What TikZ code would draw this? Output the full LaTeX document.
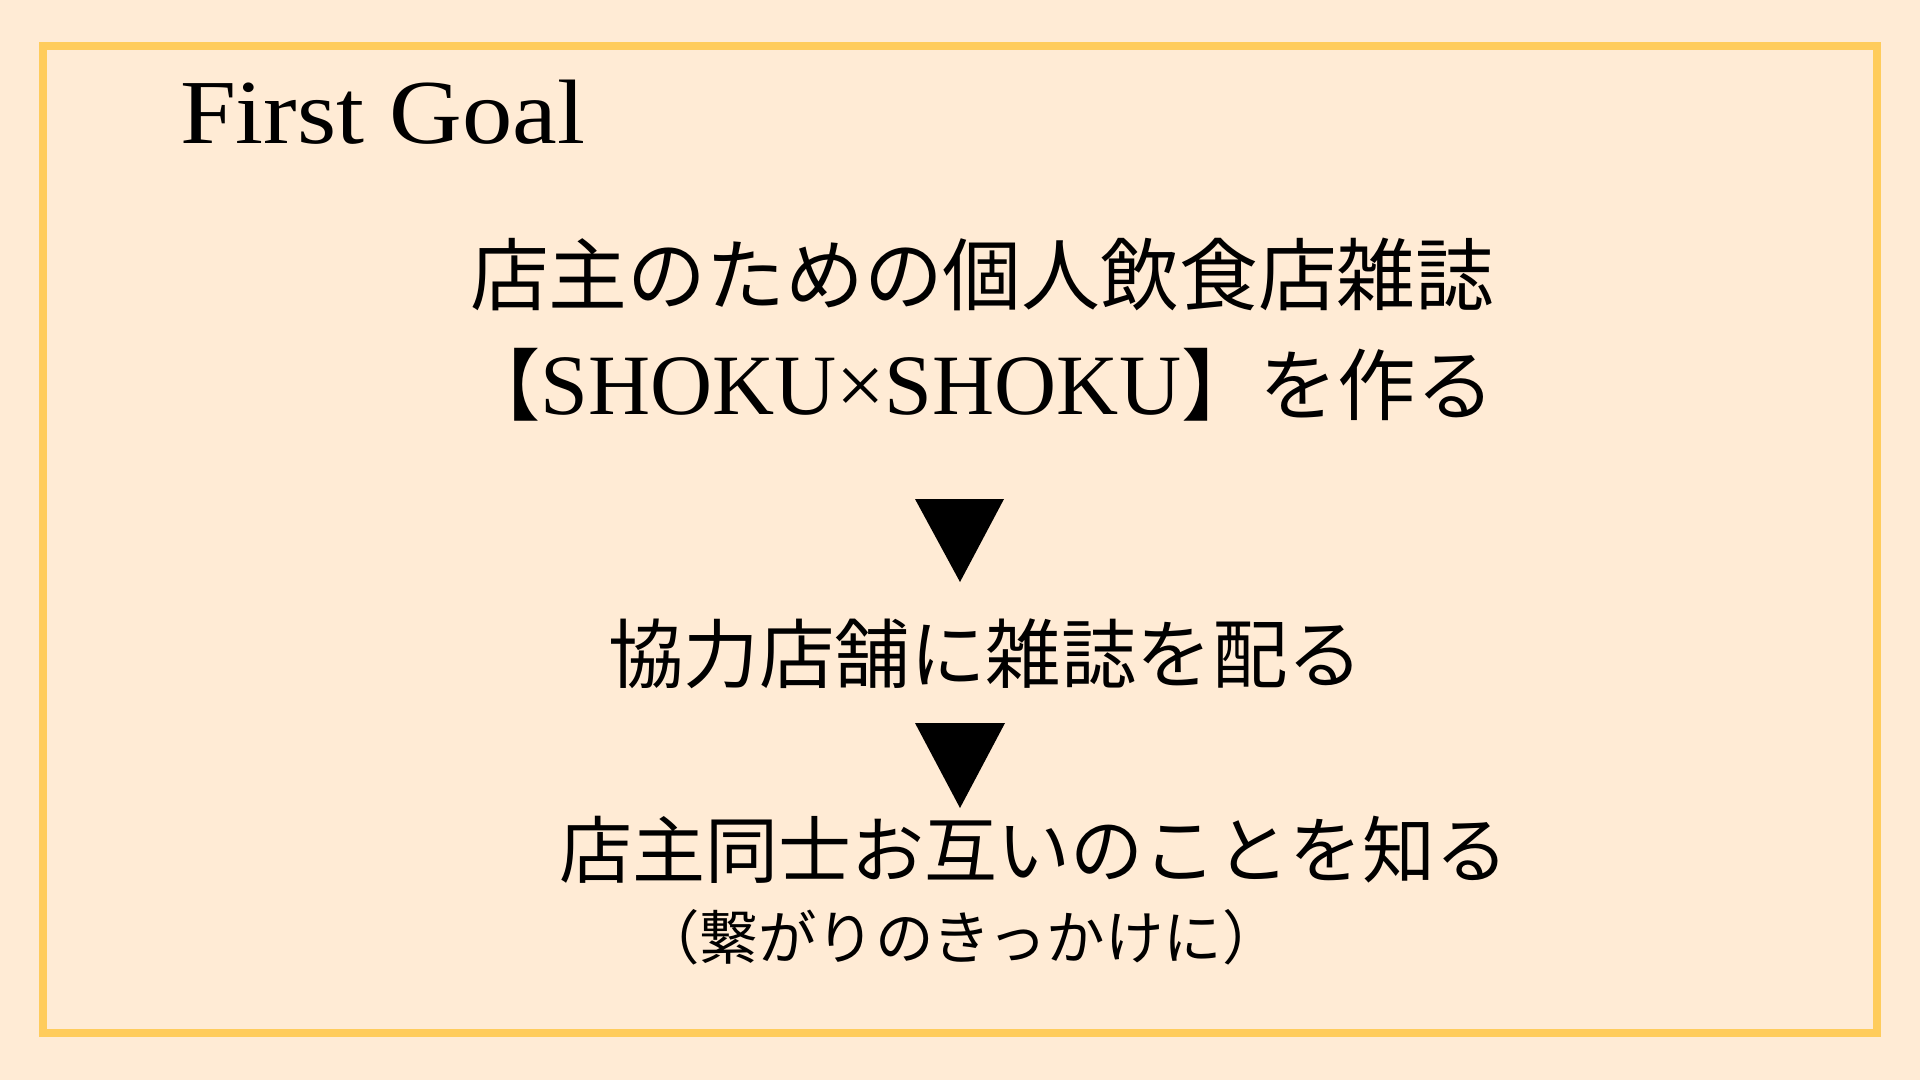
\documentclass[tikz,border=0pt]{standalone}
\usepackage{fontspec}
\setmainfont{Liberation Serif}
\newfontfamily\cjkfont{Noto Sans CJK JP}
\newfontfamily\latfont{Liberation Serif}
\newfontfamily\titlefont[FakeStretch=1.1]{Liberation Serif}
\definecolor{bgpeach}{HTML}{FFEBD5}
\definecolor{framegold}{HTML}{FFCC5C}
\begin{document}
\begin{tikzpicture}[x=1pt,y=-1pt,
  txt/.style={inner sep=0pt, outer sep=0pt, anchor=base west, text=black},
  tri/.style={fill=black}]
\fill[bgpeach] (0,0) rectangle (1920,1080);
\useasboundingbox (0,0) rectangle (1920,1080);
\draw[framegold, line width=8pt] (43,46) rectangle (1877,1033);
\node[txt] (title) at (180,143) {\titlefont\fontsize{91.5}{91.5}\selectfont First Goal};
\node[txt] (l1) at (470,304) {\cjkfont\fontsize{78.8}{78.8}\selectfont 店主のための個人飲食店雑誌};
\node[txt] (l2) at (462,414) {\cjkfont\fontsize{78.3}{78.3}\selectfont 【{\latfont\fontsize{86}{86}\selectfont SHOKU×SHOKU}】を作る};
\fill[tri] (915,499) -- (1004,499) -- (960,582) -- cycle;
\node[txt] (l3) at (608,682) {\cjkfont\fontsize{75.5}{75.5}\selectfont 協力店舗に雑誌を配る};
\fill[tri] (915,723) -- (1005,723) -- (960,808) -- cycle;
\node[txt] (l4) at (559,877) {\cjkfont\fontsize{73}{73}\selectfont 店主同士お互いのことを知る};
\node[txt, anchor=base] (l5) at (961,959) {\cjkfont\fontsize{58.5}{58.5}\selectfont （繋がりのきっかけに）};
\end{tikzpicture}
\end{document}
